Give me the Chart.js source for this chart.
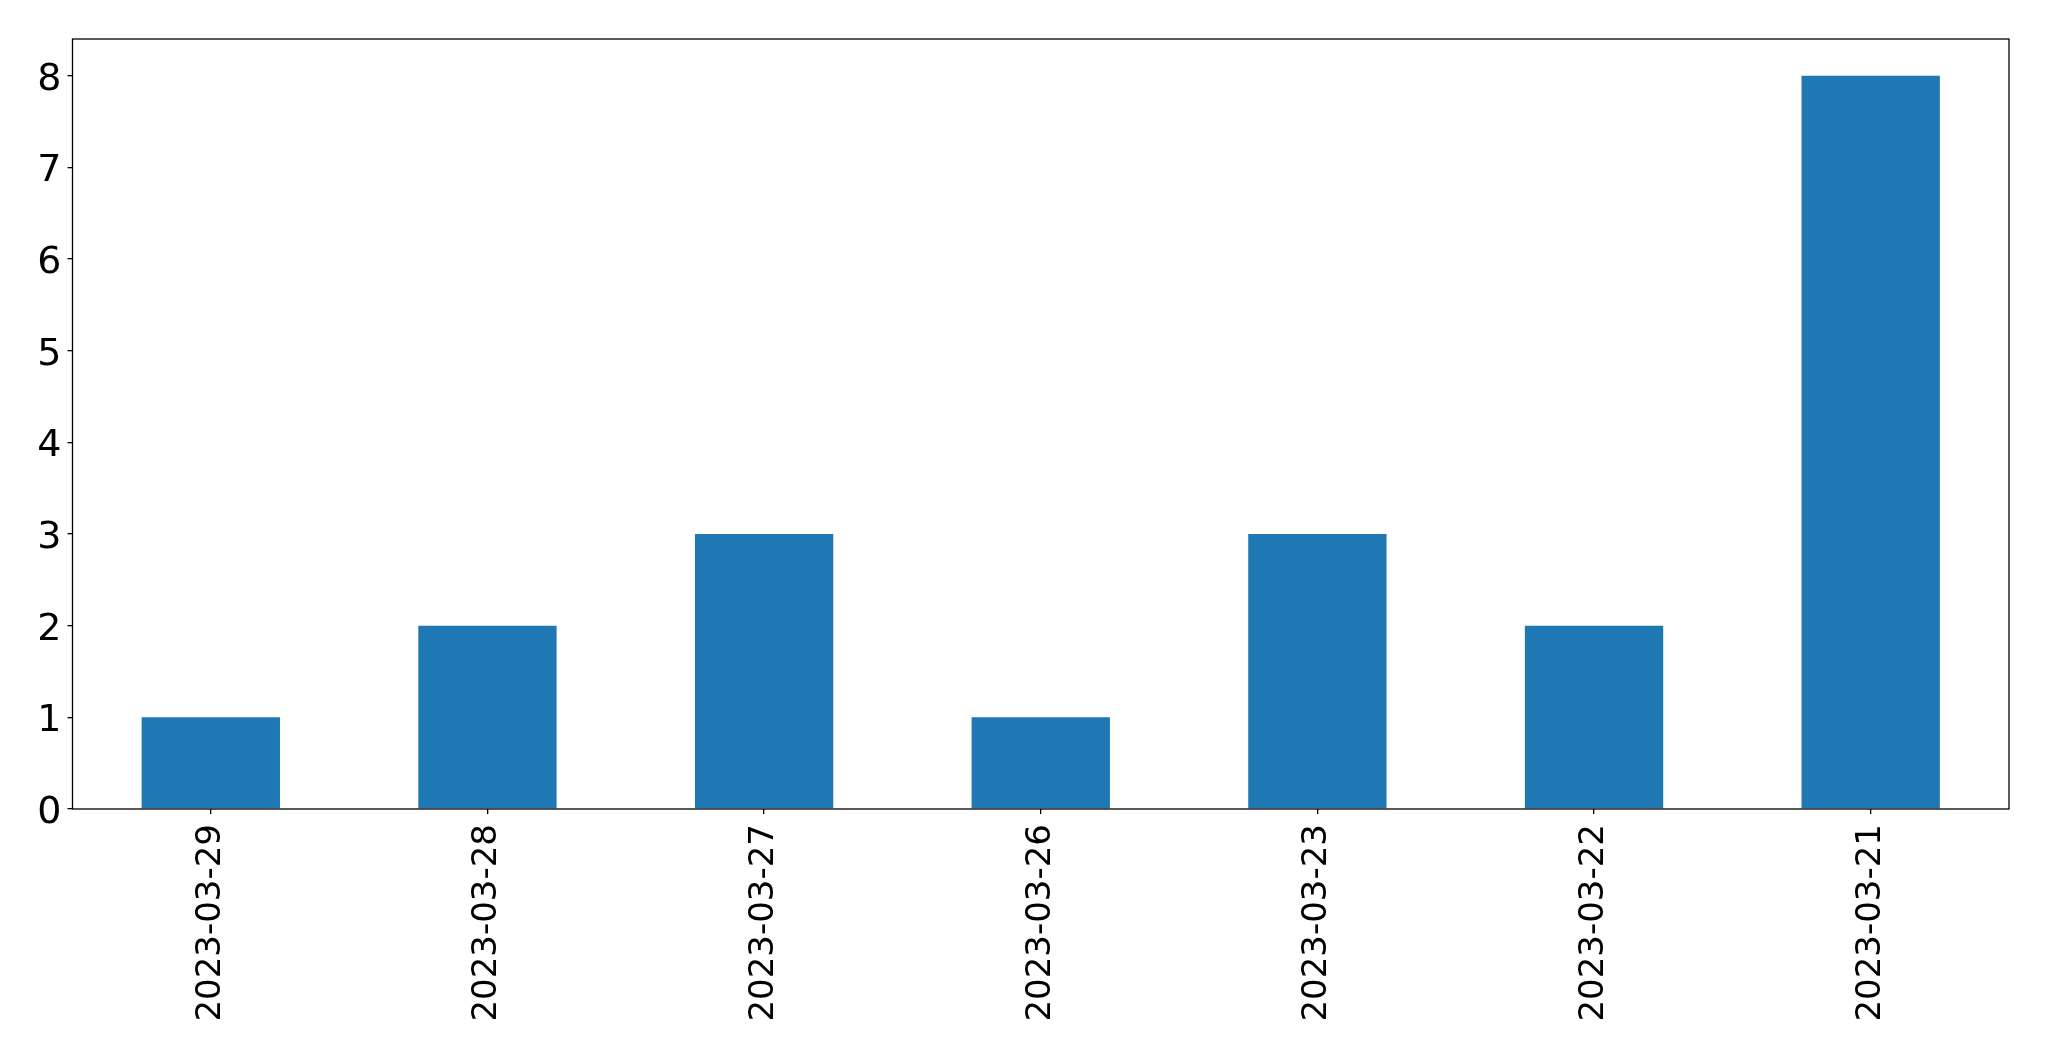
<!DOCTYPE html>
<html>
<head>
<meta charset="utf-8">
<script src="https://cdn.jsdelivr.net/npm/chart.js@4"></script>
<style>
html,body{margin:0;padding:0;background:#fff;}
#wrap{width:2049px;height:1061px;}
</style>
</head>
<body>
<div id="wrap"><canvas id="c" width="2049" height="1061"></canvas></div>
<script>
const categories = ["2023-03-29","2023-03-28","2023-03-27","2023-03-26","2023-03-23","2023-03-22","2023-03-21"];
const values = [1, 2, 3, 1, 3, 2, 8];
const yTicks = [0, 1, 2, 3, 4, 5, 6, 7, 8];

const XFONT = {family: "'DejaVu Sans', sans-serif", size: 34};
const YFONT = {family: "'DejaVu Sans', sans-serif", size: 38};

const framePlugin = {
  id: 'frame',
  afterDatasetsDraw(chart) {
    const a = chart.chartArea, ctx = chart.ctx;
    ctx.save();
    ctx.strokeStyle = '#000';
    ctx.lineWidth = 1.3;
    ctx.strokeRect(a.left, a.top, a.right - a.left, a.bottom - a.top);
    ctx.restore();
  }
};

new Chart(document.getElementById('c'), {
  type: 'bar',
  data: {
    labels: categories,
    datasets: [{
      data: values,
      backgroundColor: '#1f77b4',
      borderWidth: 0,
      categoryPercentage: 0.5,
      barPercentage: 1.0
    }]
  },
  options: {
    responsive: false,
    animation: false,
    devicePixelRatio: 1,
    layout: {padding: {left: 0, top: 39, right: 40, bottom: 0}},
    plugins: {legend: {display: false}, tooltip: {enabled: false}},
    scales: {
      x: {
        offset: true,
        grid: {display: true, offset: false, drawOnChartArea: false, drawTicks: true, tickLength: 5, color: '#000', lineWidth: 1.3},
        border: {display: false},
        ticks: {color: '#000', font: XFONT, minRotation: 90, maxRotation: 90, padding: 10, autoSkip: false},
        afterFit(s) { s.height = 252; }
      },
      y: {
        min: 0,
        max: 8.4,
        grid: {display: true, drawOnChartArea: false, drawTicks: true, tickLength: 5, color: '#000', lineWidth: 1.3},
        border: {display: false},
        ticks: {color: '#000', font: YFONT, padding: 6, stepSize: 1, labelOffset: 4},
        afterBuildTicks(s) { s.ticks = yTicks.map(v => ({value: v})); },
        afterFit(s) { s.width = 72.5; }
      }
    }
  },
  plugins: [framePlugin]
});
</script>
</body>
</html>
